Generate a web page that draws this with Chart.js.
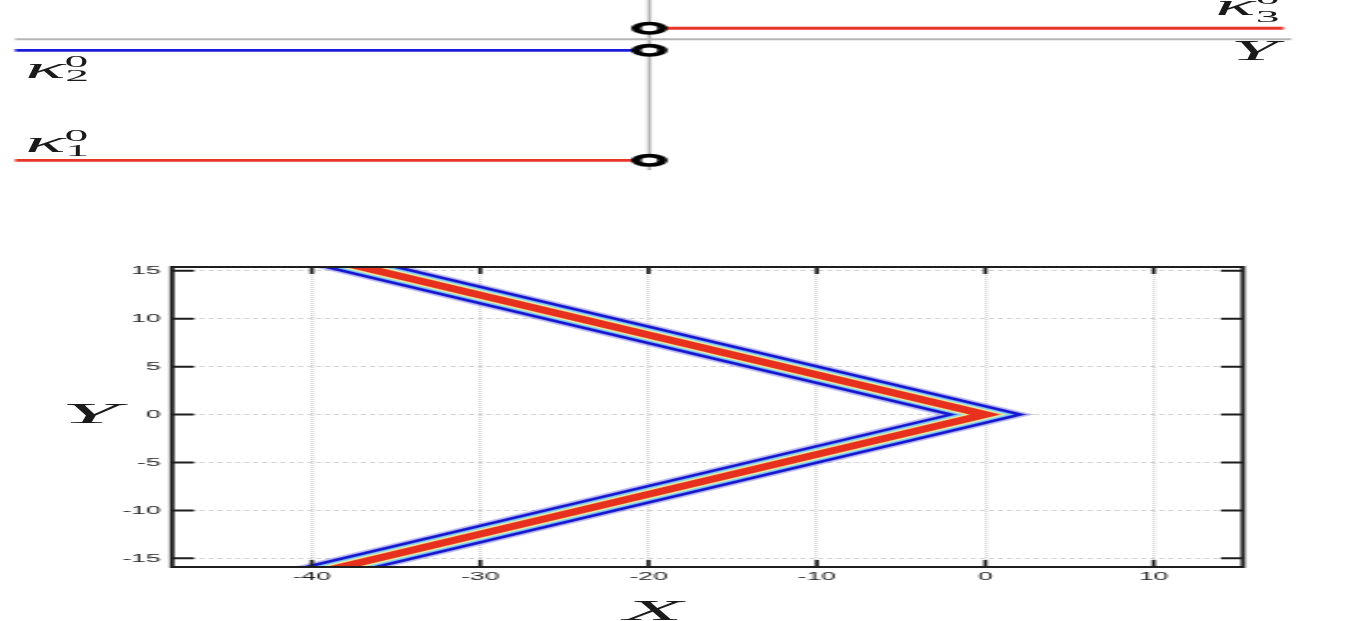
<!DOCTYPE html>
<html>
<head>
<meta charset="utf-8">
<script src="https://cdn.jsdelivr.net/npm/chart.js@4.4.0/dist/chart.umd.min.js"></script>
<style>
  html, body { margin: 0; padding: 0; background: #fff; overflow: hidden; }
  body { width: 1346px; height: 621px; position: relative; }
  /* the original figure is stretched sideways, so both panels are drawn narrow and scaled in x */
  .stretch { position: absolute; left: 0; transform-origin: 0 0; }
  #top { top: 0; width: 480.71px; height: 200px; transform: scaleX(2.8); }
  #bottom { top: 250px; width: 585.22px; height: 371px; transform: scaleX(2.3); }
  .lbl { position: absolute; font-family: 'Liberation Serif', serif; line-height: 1; white-space: nowrap; color: #1a1a1a; }
  .k { font-size: 30px; font-style: italic; }
  .d { font-size: 17px; }
  .ax { font-size: 30px; font-style: italic; width: 50px; text-align: center; }
</style>
</head>
<body>

<div class="stretch" id="top">
  <canvas id="levelChart"></canvas>
  <span class="lbl k" style="left:9px; top:52.9px;">κ</span>
  <span class="lbl d" style="left:23px; top:52.8px;">0</span>
  <span class="lbl d" style="left:23.3px; top:66.8px;">2</span>

  <span class="lbl k" style="left:9px; top:126.9px;">κ</span>
  <span class="lbl d" style="left:23px; top:126.8px;">0</span>
  <span class="lbl d" style="left:23.3px; top:141.8px;">1</span>

  <span class="lbl k" style="left:434px; top:-10.1px;">κ</span>
  <span class="lbl d" style="left:448.5px; top:-10.2px;">0</span>
  <span class="lbl d" style="left:448.5px; top:7.8px;">3</span>

  <span class="lbl k" style="left:439.5px; top:34.9px;">Y</span>
</div>

<div class="stretch" id="bottom">
  <canvas id="curveChart"></canvas>
  <div class="lbl ax" style="left:13.6px; top:147.9px; transform:scaleX(1.5);">Y</div>
  <div class="lbl ax" style="left:258.5px; top:344.9px; transform:scaleX(1.4);">X</div>
</div>

<script>
// --- panel atas: level kappa (κ1, κ2 kiri, κ3 kanan) ---
const kappaLevels = [-1.1, -0.1, 0.1];
const kappaFromX = [-1, -1, 0];
const kappaToX = [0, 0, 1];
const axisYRange = [-1.19, 0.36];   // garis vertikal abu-abu
const axisXRange = [-1, 1.012];     // garis horizontal abu-abu (sumbu Y)

// --- panel bawah: kurva V ---
const curveX = [-45, 0, -45];
const curveY = [18.7, 0, -18.7];
const xTickValues = [-40, -30, -20, -10, 0, 10];
const yTickValues = [-15, -10, -5, 0, 5, 10, 15];
const xLimits = [-48.3, 15.3];
const yLimits = [-15.9, 15.4];

const kappaColors = ['#e8352a', '#1c1cdc', '#e8352a'];

function segment(x0, x1, y0, y1) {
    return [{ x: x0, y: y0 }, { x: x1, y: y1 }];
}

// panel atas
const levelDatasets = [];

// lingkaran terbuka di x = 0 (paling atas)
levelDatasets.push({
    data: kappaLevels.map(v => ({ x: 0, y: v })),
    showLine: false,
    pointRadius: 4.7,
    pointBorderWidth: 3.6,
    pointBorderColor: '#000',
    pointBackgroundColor: '#fff'
});

kappaLevels.forEach((lv, i) => {
    levelDatasets.push({
        data: segment(kappaFromX[i], kappaToX[i], lv, lv),
        showLine: true,
        borderColor: kappaColors[i],
        borderWidth: 2.8,
        pointRadius: 0
    });
});

levelDatasets.push({
    data: segment(0, 0, axisYRange[0], axisYRange[1]),
    showLine: true, borderColor: '#b4b4b4', borderWidth: 1.4, pointRadius: 0
});
levelDatasets.push({
    data: segment(axisXRange[0], axisXRange[1], 0, 0),
    showLine: true, borderColor: '#b4b4b4', borderWidth: 2, pointRadius: 0
});

new Chart(document.getElementById('levelChart'), {
    type: 'scatter',
    data: { datasets: levelDatasets },
    options: {
        responsive: true,
        maintainAspectRatio: false,
        animation: false,
        events: [],
        layout: { padding: 0, autoPadding: false },
        plugins: { legend: { display: false }, tooltip: { enabled: false } },
        scales: {
            x: { type: 'linear', display: false, min: -1.0237, max: 1.1027 },
            y: { type: 'linear', display: false, min: -1.461, max: 0.357 }
        }
    }
});

// panel bawah: pita warna dari lapisan garis (merah di atas)
const bandLayers = [
    { w: 6.5, c: '#e8301f' },
    { w: 9, c: '#eef0a0' },
    { w: 12, c: '#84cdf2' },
    { w: 17, c: '#1616d0' },
    { w: 20, c: 'rgba(110, 110, 225, 0.45)' }
];

const curvePoints = curveX.map((x, i) => ({ x: x, y: curveY[i] }));

const curveDatasets = bandLayers.map(l => ({
    data: curvePoints,
    showLine: true,
    borderColor: l.c,
    borderWidth: l.w,
    borderJoinStyle: 'miter',
    borderCapStyle: 'butt',
    tension: 0,
    pointRadius: 0,
    clip: 0
}));

// kotak dan tick ke dalam
const frameTicks = {
    id: 'frameTicks',
    afterDraw(chart) {
        const { ctx, chartArea: a, scales: { x, y } } = chart;
        ctx.save();
        ctx.strokeStyle = '#1e1e1e';
        ctx.lineWidth = 1.7;
        ctx.beginPath();
        x.ticks.forEach(t => {
            const px = x.getPixelForValue(t.value);
            ctx.moveTo(px, a.bottom); ctx.lineTo(px, a.bottom - 7);
            ctx.moveTo(px, a.top); ctx.lineTo(px, a.top + 7);
        });
        ctx.stroke();
        ctx.lineWidth = 2;
        ctx.beginPath();
        y.ticks.forEach(t => {
            const py = y.getPixelForValue(t.value);
            ctx.moveTo(a.left, py); ctx.lineTo(a.left + 9.6, py);
            ctx.moveTo(a.right, py); ctx.lineTo(a.right - 9.6, py);
        });
        ctx.stroke();
        ctx.lineWidth = 2;
        ctx.strokeRect(a.left, a.top, a.right - a.left, a.bottom - a.top);
        ctx.restore();
    }
};

new Chart(document.getElementById('curveChart'), {
    type: 'scatter',
    data: { datasets: curveDatasets },
    plugins: [frameTicks],
    options: {
        responsive: true,
        maintainAspectRatio: false,
        animation: false,
        events: [],
        layout: { padding: { top: 17, right: 44.8, left: 0, bottom: 0 }, autoPadding: false },
        plugins: { legend: { display: false }, tooltip: { enabled: false } },
        scales: {
            x: {
                type: 'linear',
                min: xLimits[0],
                max: xLimits[1],
                afterBuildTicks: s => { s.ticks = xTickValues.map(v => ({ value: v })); },
                afterFit: s => { s.height = 54; },
                border: { display: false, dash: [1, 1] },
                grid: { color: '#d6d6d6', lineWidth: 1.5, drawTicks: false },
                ticks: {
                    padding: 3,
                    color: '#222',
                    font: { family: 'Liberation Sans', size: 11.5 },
                    callback: v => String(v)
                }
            },
            y: {
                type: 'linear',
                min: yLimits[0],
                max: yLimits[1],
                afterBuildTicks: s => { s.ticks = yTickValues.map(v => ({ value: v })); },
                afterFit: s => { s.width = 74.8; },
                border: { display: false, dash: [2.2, 1.7] },
                grid: { color: '#cfcfcf', lineWidth: 1, drawTicks: false },
                ticks: {
                    padding: 5,
                    color: '#222',
                    font: { family: 'Liberation Sans', size: 11.5 },
                    callback: v => String(v)
                }
            }
        }
    }
});
</script>
</body>
</html>
